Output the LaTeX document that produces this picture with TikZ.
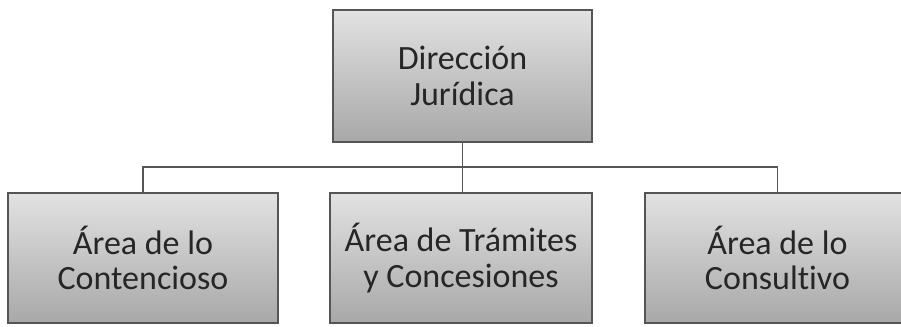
\documentclass[tikz,border=0pt]{standalone}
\usepackage{fontspec}
\setmainfont{Carlito}[Ligatures=NoCommon]
\definecolor{inkc}{HTML}{262626}
\definecolor{edgec}{HTML}{555555}
\definecolor{boxtop}{HTML}{E2E2E2}
\definecolor{boxbot}{HTML}{A8A8A8}
\begin{document}
\begin{tikzpicture}[x=0.75pt,y=-0.75pt,
  orgbox/.style={draw=edgec, line width=0.9pt, top color=boxtop, bottom color=boxbot,
    minimum height=97.5pt, inner sep=0pt, align=center, text=inkc,
    font=\fontsize{25.5}{26.5}\selectfont},
  link/.style={draw=edgec, line width=1.1pt}]
\useasboundingbox (0,0) rectangle (901,327);
\begin{scope}
\clip (0,0) rectangle (901,327);
\node[orgbox, minimum width=194.25pt, minimum height=99pt] (top) at (462.5,76) {Dirección\\Jurídica};
\node[orgbox, minimum width=202.5pt] (c1) at (143,258) {Área de lo\\Contencioso};
\node[orgbox, minimum width=196.5pt] (c2) at (461,258) {Área de Trámites\\y Concesiones};
\node[orgbox, minimum width=198.75pt] (c3) at (777.5,258) {Área de lo\\Consultivo};
\coordinate (bus) at (462.5,167);
\draw[link] (top.south) -- (top.south |- c2.north);
\draw[link] (c1.north) -- (c1.north |- bus) -| (c3.north);
\end{scope}
\end{tikzpicture}
\end{document}
